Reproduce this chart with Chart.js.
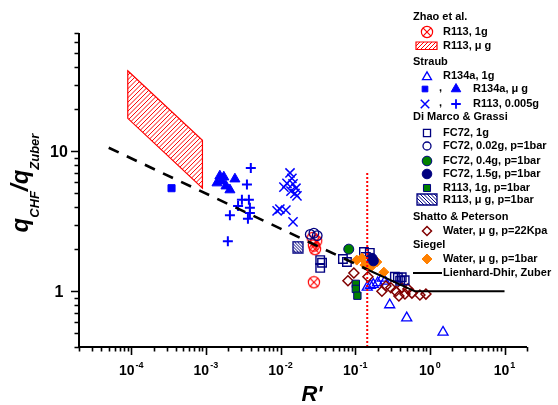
<!DOCTYPE html>
<html>
<head>
<meta charset="utf-8">
<script src="https://cdn.jsdelivr.net/npm/chart.js@4.4.1/dist/chart.umd.min.js"></script>
<style>
  html, body { margin: 0; padding: 0; background: #fff; }
  #wrap { position: relative; width: 558px; height: 405px; }
</style>
</head>
<body>
<div id="wrap"><canvas id="c" width="558" height="405"></canvas></div>
<script>
// axis ranges and tick labels
var xMin = 2e-5, xMax = 20, yMin = 0.4, yMax = 70;
var xMajorTicks = [1e-4, 1e-3, 1e-2, 1e-1, 1, 10];
var xTickExp = ['-4', '-3', '-2', '-1', '0', '1'];
var yMajorTicks = [1, 10];
var yTickLabels = ['1', '10'];

// Zhao et al.
var zhao1gX = [0.027, 0.030, 0.028, 0.029, 0.028];
var zhao1gY = [2.40, 2.28, 2.12, 2.00, 1.16];
var zhaoMicroX = [9e-5, 9e-4, 9e-4, 9e-5];
var zhaoMicroY = [37.6, 12.0, 5.45, 17.2];

// Straub
var straubTriX = [0.145, 0.16, 0.175, 0.20, 0.23, 0.25, 0.29, 0.49, 1.5];
var straubTriY = [1.07, 1.10, 1.12, 1.15, 1.24, 1.18, 0.80, 0.645, 0.51];
var straubMicroSqX = [3.47e-4];
var straubMicroSqY = [5.45];
var straubMicroTriX = [1.54e-3, 1.74e-3, 1.41e-3, 1.86e-3, 2.1e-3, 2.45e-3, 1.64e-3];
var straubMicroTriY = [6.66, 6.55, 5.94, 5.65, 5.3, 6.34, 6.13];
var straubCrossX = [0.0134, 0.0142, 0.0122, 0.0111, 0.0147, 0.0161, 0.0138, 0.0156, 0.0166, 0.0098, 0.0118, 0.0090, 0.0147];
var straubCrossY = [7.0, 6.4, 5.9, 5.55, 5.85, 5.45, 5.2, 5.0, 4.8, 3.87, 3.8, 3.75, 3.13];
var straubPlusX = [4.0e-3, 3.55e-3, 3.04e-3, 3.77e-3, 2.7e-3, 3.89e-3, 3.89e-3, 3.66e-3, 2.1e-3, 1.97e-3];
var straubPlusY = [7.6, 5.8, 4.5, 4.5, 4.06, 3.95, 3.62, 3.3, 3.5, 2.28];

// Di Marco & Grassi
var fc72g1X = [0.034, 0.036, 0.034, 0.0685, 0.0775, 0.131, 0.139, 0.157, 0.34, 0.373, 0.42, 0.40, 0.46];
var fc72g1Y = [1.67, 1.60, 1.47, 1.70, 1.62, 1.91, 1.76, 1.88, 1.27, 1.25, 1.26, 1.19, 1.20];
var fc72g002X = [0.025, 0.028, 0.031];
var fc72g002Y = [2.55, 2.60, 2.50];
var fc72g04X = [0.082];
var fc72g04Y = [2.0];
var fc72g15X = [0.168, 0.175];
var fc72g15Y = [1.72, 1.65];
var r113g1X = [0.102, 0.102, 0.107];
var r113g1Y = [1.13, 1.04, 0.93];
var r113MicroX = [0.0171];
var r113MicroY = [2.07];

// Shatto & Peterson, Siegel
var shattoX = [0.08, 0.096, 0.148, 0.228, 0.258, 0.30, 0.35, 0.385, 0.423, 0.464, 0.508, 0.575, 0.736, 0.886];
var shattoY = [1.19, 1.35, 1.27, 1.0, 1.09, 1.06, 1.0, 0.925, 1.06, 0.957, 1.04, 0.97, 0.94, 0.955];
var siegelX = [0.105, 0.123, 0.135, 0.162, 0.195, 0.242];
var siegelY = [1.67, 1.73, 1.54, 1.49, 1.62, 1.37];

// Lienhard-Dhir / Zuber and R' limit line
var ldDashX = [5e-5, 0.15];
var ldDashY = [10.6, 1.42];
var ldSolidX = [0.15, 0.63, 10];
var ldSolidY = [1.42, 1.0, 1.0];
var limitX = [0.145, 0.145];
var limitY = [7.0, 0.4];

var FF = '"Liberation Sans", Arial, Helvetica, sans-serif';
var RED = '#FF0000', BLUE = '#0000FF', NAVY = '#000080', GREEN = '#008000', BROWN = '#800000', ORANGE = '#FF8000';

function pts(xs, ys) {
  return xs.map(function (x, i) { return { x: x, y: ys[i] }; });
}

function hatchPoly(ctx, poly, color, step, dir, lw) {
  var xs = poly.map(function (p) { return p[0]; });
  var ys = poly.map(function (p) { return p[1]; });
  var x0 = Math.min.apply(null, xs), x1 = Math.max.apply(null, xs);
  var y0 = Math.min.apply(null, ys), y1 = Math.max.apply(null, ys);
  var h = y1 - y0;
  function path() {
    ctx.beginPath();
    poly.forEach(function (p, i) { if (i) ctx.lineTo(p[0], p[1]); else ctx.moveTo(p[0], p[1]); });
    ctx.closePath();
  }
  ctx.save();
  path();
  ctx.fillStyle = '#fff';
  ctx.fill();
  ctx.save();
  ctx.clip();
  ctx.strokeStyle = color;
  ctx.lineWidth = 1;
  ctx.beginPath();
  for (var k = x0 - h - step; k <= x1 + step; k += step) {
    if (dir > 0) { ctx.moveTo(k, y1); ctx.lineTo(k + h, y0); }
    else { ctx.moveTo(k, y0); ctx.lineTo(k + h, y1); }
  }
  ctx.stroke();
  ctx.restore();
  path();
  ctx.strokeStyle = color;
  ctx.lineWidth = lw || 1.2;
  ctx.stroke();
  ctx.restore();
}

function makeZhaoMarker() {
  var c = document.createElement('canvas');
  c.width = 14; c.height = 14;
  var g = c.getContext('2d');
  g.strokeStyle = RED;
  g.lineWidth = 1.2;
  g.beginPath(); g.arc(7, 7, 5.6, 0, Math.PI * 2); g.stroke();
  g.beginPath();
  g.moveTo(3.2, 3.2); g.lineTo(10.8, 10.8);
  g.moveTo(10.8, 3.2); g.lineTo(3.2, 10.8);
  g.stroke();
  return c;
}

function makeHatchSquare() {
  var c = document.createElement('canvas');
  c.width = 12; c.height = 13;
  var g = c.getContext('2d');
  hatchPoly(g, [[1, 1], [11, 1], [11, 12], [1, 12]], NAVY, 3, -1, 1.3);
  return c;
}

var zhaoImg = makeZhaoMarker();
var hatchImg = makeHatchSquare();

function marker(ctx, style, x, y, r, stroke, fill, lw) {
  ctx.save();
  ctx.strokeStyle = stroke;
  ctx.lineWidth = lw || 1.5;
  ctx.beginPath();
  var d;
  switch (style) {
    case 'circle': ctx.arc(x, y, r, 0, Math.PI * 2); break;
    case 'rect': d = r * Math.SQRT1_2; ctx.rect(x - d, y - d, 2 * d, 2 * d); break;
    case 'rectRot': ctx.moveTo(x - r, y); ctx.lineTo(x, y - r); ctx.lineTo(x + r, y); ctx.lineTo(x, y + r); ctx.closePath(); break;
    case 'triangle': ctx.moveTo(x, y - r); ctx.lineTo(x + r * 0.866, y + r / 2); ctx.lineTo(x - r * 0.866, y + r / 2); ctx.closePath(); break;
    case 'cross': ctx.moveTo(x, y - r); ctx.lineTo(x, y + r); ctx.moveTo(x - r, y); ctx.lineTo(x + r, y); break;
    case 'crossRot': d = r * Math.SQRT1_2; ctx.moveTo(x - d, y - d); ctx.lineTo(x + d, y + d); ctx.moveTo(x + d, y - d); ctx.lineTo(x - d, y + d); break;
  }
  if (fill) { ctx.fillStyle = fill; ctx.fill(); }
  ctx.stroke();
  ctx.restore();
}

function drawLegend(ctx) {
  var tx = 443, hx = 413;
  ctx.save();
  ctx.font = 'bold 11px ' + FF;
  ctx.fillStyle = '#000';
  ctx.textAlign = 'left';
  ctx.textBaseline = 'middle';
  function head(t, y) { ctx.fillText(t, hx, y); }
  function item(t, y, x) { ctx.fillText(t, x || tx, y); }

  head('Zhao et al.', 17);
  ctx.drawImage(zhaoImg, 427 - 7, 32 - 7);
  item('R113, 1g', 32);
  hatchPoly(ctx, [[416, 42], [437, 42], [437, 49.5], [416, 49.5]], RED, 4, 1, 1.2);
  item('R113, \u03bc g', 46);

  head('Straub', 62);
  marker(ctx, 'triangle', 427, 77, 5.2, BLUE, null, 1.3);
  item('R134a, 1g', 76);
  marker(ctx, 'rect', 425, 89, 4, BLUE, BLUE, 1);
  item(',', 88, 439);
  marker(ctx, 'triangle', 456, 89, 5.5, BLUE, BLUE, 1);
  item('R134a, \u03bc g', 89, 473);
  marker(ctx, 'crossRot', 425, 104, 6, BLUE, null, 1.5);
  item(',', 103, 439);
  marker(ctx, 'cross', 456, 104, 4.8, BLUE, null, 1.8);
  item('R113, 0.005g', 104, 473);

  head('Di Marco & Grassi', 117);
  marker(ctx, 'rect', 427, 133, 5, NAVY, null, 1.3);
  item('FC72, 1g', 133);
  marker(ctx, 'circle', 427, 146, 4, NAVY, null, 1.3);
  item('FC72, 0.02g, p=1bar', 146);
  marker(ctx, 'circle', 427, 161, 4.8, NAVY, GREEN, 1);
  item('FC72, 0.4g, p=1bar', 161);
  marker(ctx, 'circle', 427, 174, 4.8, NAVY, NAVY, 1);
  item('FC72, 1.5g, p=1bar', 174);
  marker(ctx, 'rect', 427, 188, 5, NAVY, GREEN, 1);
  item('R113, 1g, p=1bar', 188);
  hatchPoly(ctx, [[417, 194], [437, 194], [437, 205], [417, 205]], NAVY, 3.5, -1, 1.3);
  item('R113, \u03bc g, p=1bar', 200);

  head('Shatto & Peterson', 217);
  marker(ctx, 'rectRot', 427, 231, 4.5, BROWN, null, 1.5);
  item('Water, \u03bc g, p=22Kpa', 231);
  head('Siegel', 245);
  marker(ctx, 'rectRot', 427, 259, 5, ORANGE, ORANGE, 1);
  item('Water, \u03bc g, p=1bar', 259);

  ctx.strokeStyle = '#000';
  ctx.lineWidth = 2;
  ctx.beginPath(); ctx.moveTo(413, 273); ctx.lineTo(442, 273); ctx.stroke();
  item('Lienhard-Dhir, Zuber', 273);
  ctx.restore();
}

var decor = {
  id: 'decor',
  beforeDatasetsDraw: function (chart) {
    var ctx = chart.ctx, sx = chart.scales.x, sy = chart.scales.y;
    var poly = zhaoMicroX.map(function (x, i) {
      return [sx.getPixelForValue(x), sy.getPixelForValue(zhaoMicroY[i])];
    });
    hatchPoly(ctx, poly, RED, 4.5, 1, 1.2);
  },
  afterDraw: function (chart) {
    var ctx = chart.ctx, sx = chart.scales.x, sy = chart.scales.y, a = chart.chartArea;
    ctx.save();
    ctx.strokeStyle = '#000';
    ctx.lineWidth = 2;
    ctx.beginPath();
    ctx.moveTo(a.left, a.top); ctx.lineTo(a.left, a.bottom + 1);
    ctx.moveTo(a.left - 1, a.bottom); ctx.lineTo(a.right, a.bottom);
    ctx.stroke();

    // ticks
    ctx.lineWidth = 1.6;
    ctx.beginPath();
    var e, m, v, p;
    for (e = -5; e <= 1; e++) {
      for (m = 1; m <= 9; m++) {
        v = m * Math.pow(10, e);
        if (v < xMin * 0.999 || v > xMax * 1.001) continue;
        p = Math.round(sx.getPixelForValue(v)) + 0.5;
        ctx.moveTo(p, a.bottom); ctx.lineTo(p, a.bottom + (m === 1 ? 8 : 4.5));
      }
    }
    for (e = -1; e <= 1; e++) {
      for (m = 1; m <= 9; m++) {
        v = m * Math.pow(10, e);
        if (v < yMin * 0.999 || v > yMax * 1.001) continue;
        p = Math.round(sy.getPixelForValue(v)) + 0.5;
        ctx.moveTo(a.left, p); ctx.lineTo(a.left - (m === 1 ? 8 : 4.5), p);
      }
    }
    ctx.stroke();

    // x tick labels 10^n
    ctx.fillStyle = '#000';
    ctx.textBaseline = 'alphabetic';
    ctx.textAlign = 'left';
    xMajorTicks.forEach(function (t, i) {
      var px = sx.getPixelForValue(t);
      ctx.font = 'bold 14px ' + FF;
      var w1 = ctx.measureText('10').width;
      ctx.font = 'bold 9px ' + FF;
      var w2 = ctx.measureText(xTickExp[i]).width;
      var start = px - (w1 + w2 + 1) / 2;
      ctx.font = 'bold 14px ' + FF;
      ctx.fillText('10', start, 375);
      ctx.font = 'bold 9px ' + FF;
      ctx.fillText(xTickExp[i], start + w1 + 1, 368);
    });

    // y tick labels
    ctx.font = 'bold 16px ' + FF;
    ctx.textAlign = 'center';
    yMajorTicks.forEach(function (t, i) {
      var py = sy.getPixelForValue(t);
      ctx.fillText(yTickLabels[i], 59, py + 6);
    });

    // x title
    ctx.font = 'italic bold 22px ' + FF;
    ctx.textAlign = 'center';
    ctx.fillText("R'", 312, 401);

    // y title with subscripts
    ctx.save();
    ctx.translate(28, 183);
    ctx.rotate(-Math.PI / 2);
    ctx.textAlign = 'left';
    var parts = [['q', 24, 0], ['CHF', 13, 11], ['/', 24, 0], ['q', 24, 0], ['Zuber', 13, 11]];
    var total = 0;
    parts.forEach(function (pt) {
      ctx.font = 'italic bold ' + pt[1] + 'px ' + FF;
      pt.push(ctx.measureText(pt[0]).width);
      total += pt[3];
    });
    var cx = -total / 2;
    parts.forEach(function (pt) {
      ctx.font = 'italic bold ' + pt[1] + 'px ' + FF;
      ctx.fillText(pt[0], cx, pt[2]);
      cx += pt[3];
    });
    ctx.restore();

    drawLegend(ctx);
    ctx.restore();
  }
};

var datasets = [
  { data: pts(limitX, limitY), showLine: true, borderColor: RED, borderWidth: 2, borderDash: [2, 2], pointRadius: 0 },
  { data: pts(ldDashX, ldDashY), showLine: true, borderColor: '#000', borderWidth: 2.6, borderDash: [11, 9], pointRadius: 0 },
  { data: pts(ldSolidX, ldSolidY), showLine: true, borderColor: '#000', borderWidth: 2, pointRadius: 0 },
  { data: pts(fc72g15X, fc72g15Y), pointStyle: 'circle', pointRadius: 5, backgroundColor: NAVY, borderColor: NAVY, borderWidth: 1 },
  { data: pts(siegelX, siegelY), pointStyle: 'rectRot', pointRadius: 5, backgroundColor: ORANGE, borderColor: ORANGE, borderWidth: 1 },
  { data: pts(fc72g04X, fc72g04Y), pointStyle: 'circle', pointRadius: 5, backgroundColor: GREEN, borderColor: NAVY, borderWidth: 1 },
  { data: pts(r113g1X, r113g1Y), pointStyle: 'rect', pointRadius: 5.2, backgroundColor: GREEN, borderColor: NAVY, borderWidth: 1 },
  { data: pts(r113MicroX, r113MicroY), pointStyle: hatchImg, pointRadius: 5 },
  { data: pts(fc72g1X, fc72g1Y), pointStyle: 'rect', pointRadius: 6, backgroundColor: 'rgba(0,0,0,0)', borderColor: NAVY, borderWidth: 1.4 },
  { data: pts(fc72g002X, fc72g002Y), pointStyle: 'circle', pointRadius: 4.8, backgroundColor: 'rgba(0,0,0,0)', borderColor: NAVY, borderWidth: 1.3 },
  { data: pts(shattoX, shattoY), pointStyle: 'rectRot', pointRadius: 5, backgroundColor: 'rgba(0,0,0,0)', borderColor: BROWN, borderWidth: 1.5 },
  { data: pts(straubTriX, straubTriY), pointStyle: 'triangle', pointRadius: 5.8, backgroundColor: 'rgba(0,0,0,0)', borderColor: BLUE, borderWidth: 1.3 },
  { data: pts(zhao1gX, zhao1gY), pointStyle: zhaoImg, pointRadius: 5 },
  { data: pts(straubMicroSqX, straubMicroSqY), pointStyle: 'rect', pointRadius: 5, backgroundColor: BLUE, borderColor: BLUE, borderWidth: 1 },
  { data: pts(straubMicroTriX, straubMicroTriY), pointStyle: 'triangle', pointRadius: 5.8, backgroundColor: BLUE, borderColor: BLUE, borderWidth: 1 },
  { data: pts(straubCrossX, straubCrossY), pointStyle: 'crossRot', pointRadius: 6.5, borderColor: BLUE, borderWidth: 1.5 },
  { data: pts(straubPlusX, straubPlusY), pointStyle: 'cross', pointRadius: 5, borderColor: BLUE, borderWidth: 2 }
];

new Chart(document.getElementById('c').getContext('2d'), {
  type: 'scatter',
  data: { datasets: datasets },
  options: {
    responsive: false,
    animation: false,
    devicePixelRatio: 1,
    layout: { padding: { left: 79, right: 31, top: 33, bottom: 58 } },
    scales: {
      x: { type: 'logarithmic', min: xMin, max: xMax, display: false },
      y: { type: 'logarithmic', min: yMin, max: yMax, display: false }
    },
    plugins: { legend: { display: false }, tooltip: { enabled: false } },
    events: []
  },
  plugins: [decor]
});
</script>
</body>
</html>
